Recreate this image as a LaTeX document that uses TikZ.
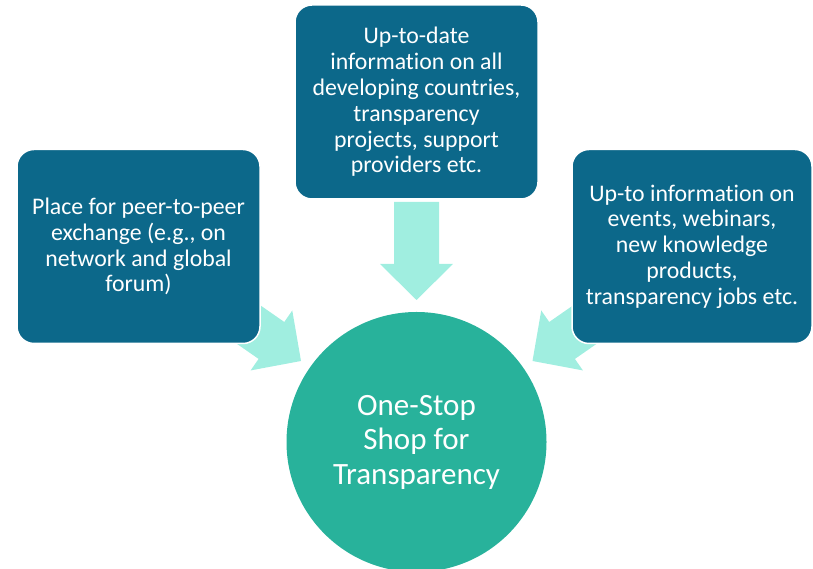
\documentclass[tikz,border=0pt]{standalone}
\usepackage{fontspec}
\setmainfont[Ligatures=NoCommon]{Carlito}
\definecolor{boxblue}{RGB}{12,104,138}
\definecolor{circgreen}{RGB}{40,178,155}
\definecolor{arrowmint}{RGB}{160,238,224}
\tikzset{
  infobox/.style={rectangle, rounded corners=17pt, fill=boxblue, draw=white, line width=1.5pt,
    minimum height=194pt, inner sep=0pt, align=center, text=white,
    font=\fontsize{23.8}{25.8}\selectfont},
  hub/.style={circle, fill=circgreen, minimum size=260pt, inner sep=0pt, align=center, text=white,
    font=\fontsize{31}{34.5}\selectfont},
  blockarrow/.style={fill=arrowmint, draw=none}
}
\begin{document}
\begin{tikzpicture}[x=1pt,y=1pt]
\useasboundingbox (0,0) rectangle (813,569);
% block arrows (behind the boxes)
\draw[blockarrow, shift={(416.5,269)}, rotate=-90]
  (0,0) -- (-36,36.5) -- (-36,22.5) -- (-98,22.5) -- (-98,-22.5) -- (-36,-22.5) -- (-36,-36.5) -- cycle;
\draw[blockarrow, shift={(301,208)}, rotate=-34.8]
  (0,0) -- (-36,36.5) -- (-36,22.5) -- (-98,22.5) -- (-98,-22.5) -- (-36,-22.5) -- (-36,-36.5) -- cycle;
\draw[blockarrow, shift={(532.5,208)}, rotate=-145.2]
  (0,0) -- (-36,36.5) -- (-36,22.5) -- (-98,22.5) -- (-98,-22.5) -- (-36,-22.5) -- (-36,-36.5) -- cycle;
% boxes
\node[infobox, minimum width=243pt] (left) at (138.5,322.5)
  {Place for peer-to-peer\\exchange (e.g., on\\network and global\\forum)};
\node[infobox, minimum width=243pt] (top) at (416.5,467)
  {Up-to-date\\information on all\\developing countries,\\transparency\\projects, support\\providers etc.};
\node[infobox, minimum width=240pt] (right) at (692,322.5)
  {Up-to information on\\events, webinars,\\new knowledge\\products,\\transparency jobs etc.};
% hub
\node[hub] (hub) at (416.5,127) {One-Stop\\Shop for\\Transparency};
\end{tikzpicture}
\end{document}
